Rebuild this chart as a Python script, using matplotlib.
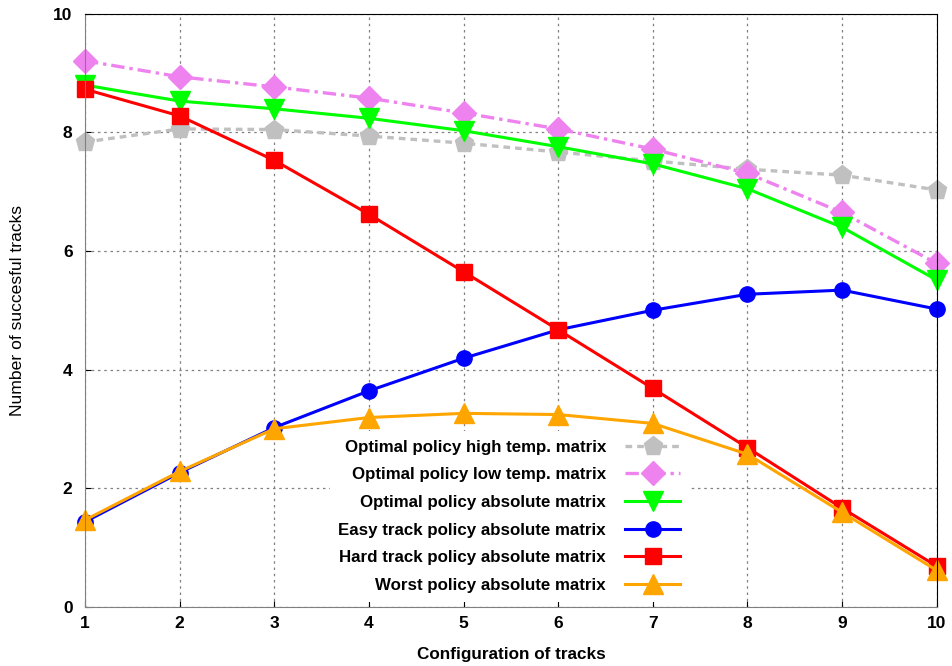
import matplotlib.pyplot as plt

plt.rcParams['font.family'] = ['Liberation Sans', 'DejaVu Sans']

configs = [1, 2, 3, 4, 5, 6, 7, 8, 9, 10]

high_temp = [7.84, 8.06, 8.05, 7.94, 7.82, 7.67, 7.52, 7.38, 7.28, 7.03]
low_temp = [9.21, 8.94, 8.77, 8.58, 8.33, 8.06, 7.72, 7.31, 6.65, 5.79]
optimal_abs = [8.80, 8.53, 8.40, 8.24, 8.03, 7.76, 7.47, 7.05, 6.40, 5.51]
easy_abs = [1.43, 2.26, 3.02, 3.64, 4.19, 4.67, 5.00, 5.27, 5.34, 5.02]
hard_abs = [8.73, 8.28, 7.53, 6.62, 5.65, 4.67, 3.68, 2.68, 1.66, 0.68]
worst_abs = [1.46, 2.28, 3.00, 3.19, 3.26, 3.24, 3.09, 2.57, 1.59, 0.61]

fig = plt.figure(figsize=(9.52, 6.66), dpi=100)
ax = fig.add_axes([0.0893, 0.0893, 0.8947, 0.8897])

ax.plot(configs, high_temp, color='#c0c0c0', lw=2.4, ls=(0, (2, 1.5)),
        marker='p', ms=14, clip_on=False, label='Optimal policy high temp. matrix')
ax.plot(configs, low_temp, color='#ee82ee', lw=2.4, ls=(0, (4, 1.5, 1, 1.5)),
        marker='D', ms=12, clip_on=False, label='Optimal policy low temp. matrix')
ax.plot(configs, optimal_abs, color='#00ff00', lw=2.2, ls='-',
        marker='v', ms=14, clip_on=False, label='Optimal policy absolute matrix')
ax.plot(configs, easy_abs, color='#0000ff', lw=2.2, ls='-',
        marker='o', ms=11, clip_on=False, label='Easy track policy absolute matrix')
ax.plot(configs, hard_abs, color='#ff0000', lw=2.2, ls='-',
        marker='s', ms=11, clip_on=False, label='Hard track policy absolute matrix')
ax.plot(configs, worst_abs, color='#ffa500', lw=2.2, ls='-',
        marker='^', ms=14, clip_on=False, label='Worst policy absolute matrix')

ax.set_xlim(1, 10)
ax.set_ylim(0, 10)
ax.set_xticks(configs)
ax.set_yticks([0, 2, 4, 6, 8, 10])
ax.tick_params(direction='in', length=4, labelsize=12.5)
ax.tick_params(axis='x', pad=7)
ax.tick_params(axis='y', pad=9)
for lab in ax.get_xticklabels() + ax.get_yticklabels():
    lab.set_fontweight('bold')

ax.grid(True, color='#808080', ls=(0, (2, 3)), lw=0.9)
ax.set_axisbelow(True)

ax.spines['left'].set_color('#808080')
ax.spines['bottom'].set_color('#808080')
ax.spines['top'].set_color('black')
ax.spines['right'].set_color('black')

ax.set_xlabel('Configuration of tracks', fontsize=12.3, fontweight='bold', labelpad=11)
ax.set_ylabel('Number of succesful tracks', fontsize=12.6, labelpad=20)

leg = ax.legend(loc='lower right', bbox_to_anchor=(0.718, -0.006), markerfirst=False,
                frameon=True, fancybox=False, edgecolor='none', framealpha=1,
                handlelength=3.2, handletextpad=1.15, labelspacing=0.75,
                prop={'weight': 'bold', 'size': 12.2}, borderpad=0.5)
# legend box sits over the grid but under the curves
leg.set_zorder(1.5)

fig.savefig('out.png', dpi=100)
